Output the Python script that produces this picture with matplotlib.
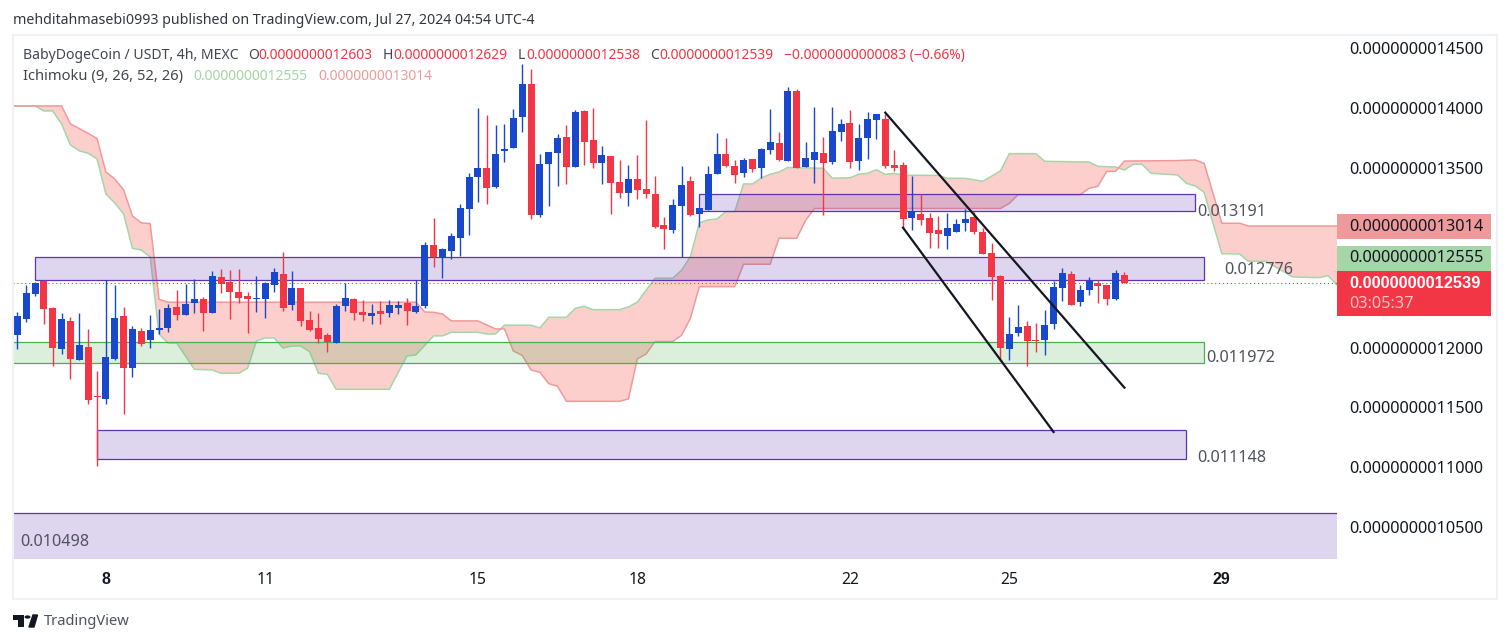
#!/usr/bin/python3

import matplotlib
matplotlib.use("Agg")
import matplotlib.pyplot as plt
from matplotlib.patches import Rectangle, Polygon, Circle

W = 1510
H = 643
FONT = "Noto Sans"
BOLD_FONT = "Liberation Sans"
RED = "#f23645"
BLUE = "#1848cc"
SPAN_A = "#a5d6a7"
SPAN_B = "#ef9a9a"
PURPLE = "#5e35b1"
GREEN = "#4caf50"

# prices are in units of 0.0000000000001, one row of ten candles per line
opens = [
    12105, 12238, 12448, 12559, 12330, 11988, 12221, 11896, 12005, 11595,
    11571, 11904, 12263, 11830, 12138, 12063, 12147, 12163, 12338, 12272,
    12372, 12406, 12288, 12589, 12548, 12464, 12431, 12406, 12406, 12523,
    12614, 12355, 12498, 12230, 12163, 12105, 12038, 12347, 12406, 12297,
    12263, 12305, 12288, 12330, 12372, 12297, 12347, 12856, 12748, 12806,
    12914, 13156, 13424, 13499, 13340, 13641, 13666, 13924, 14200, 13106,
    13532, 13624, 13757, 13507, 13974, 13732, 13540, 13599, 13382, 13290,
    13407, 13323, 13282, 13023, 12981, 13181, 13390, 13115, 13148, 13449,
    13615, 13515, 13457, 13574, 13499, 13649, 13707, 13557, 14141, 13506,
    13565, 13623, 13548, 13798, 13874, 13556, 13748, 13899, 13907, 13523,
    13523, 13081, 13114, 13081, 12981, 12931, 12964, 13039, 13089, 12964,
    12789, 12597, 11987, 12121, 12179, 12062, 12062, 12196, 12497, 12613,
    12380, 12480, 12538, 12522, 12405, 12603,
]
highs = [
    12294, 12523, 12550, 12564, 12338, 12288, 12255, 12288, 12155, 11804,
    12564, 12523, 12338, 12180, 12163, 12272, 12322, 12364, 12481, 12531,
    12573, 12423, 12639, 12656, 12648, 12656, 12464, 12598, 12548, 12664,
    12798, 12639, 12498, 12305, 12288, 12121, 12364, 12539, 12414, 12397,
    12364, 12389, 12397, 12389, 12414, 12564, 12881, 13081, 12831, 12956,
    13198, 13457, 13999, 13941, 13858, 13866, 13991, 14367, 14325, 13615,
    13632, 13782, 13858, 13983, 13983, 13999, 13682, 13599, 13565, 13524,
    13607, 13899, 13432, 13090, 13240, 13515, 13432, 13165, 13515, 13791,
    13749, 13565, 13582, 13574, 13666, 13991, 13799, 14175, 14158, 13715,
    14007, 13757, 14007, 13907, 13982, 13865, 13965, 13949, 13949, 13648,
    13548, 13431, 13281, 13122, 13097, 13122, 13072, 13156, 13131, 12997,
    12872, 12605, 12254, 12355, 12221, 12204, 12313, 12555, 12663, 12638,
    12522, 12588, 12563, 12522, 12647, 12629,
]
lows = [
    11988, 12213, 12431, 12196, 11846, 11946, 11738, 11896, 11529, 11012,
    11529, 11896, 11446, 11754, 12013, 11996, 12113, 12130, 12230, 12272,
    12288, 12138, 12288, 12456, 12238, 12372, 12121, 12297, 12247, 12464,
    12305, 12313, 12180, 12138, 12038, 11963, 12038, 12305, 12230, 12221,
    12196, 12196, 12255, 12280, 12188, 12288, 12330, 12672, 12581, 12739,
    12764, 12939, 13215, 13198, 13332, 13549, 13666, 13799, 13073, 13090,
    13181, 13348, 13365, 13507, 13524, 13499, 13365, 13115, 13248, 13181,
    13240, 13248, 12998, 12823, 12956, 12753, 13098, 13006, 13148, 13449,
    13507, 13373, 13424, 13465, 13415, 13615, 13557, 13557, 13499, 13506,
    13373, 13106, 13531, 13723, 13498, 13481, 13573, 13740, 13498, 13473,
    12997, 12980, 13022, 12830, 12830, 12822, 12964, 12972, 12947, 12780,
    12396, 11896, 11896, 12096, 11845, 11962, 11937, 12154, 12388, 12355,
    12346, 12438, 12371, 12355, 12396, 12538,
]
closes = [
    12263, 12456, 12537, 12322, 11996, 12238, 11904, 12021, 11562, 11587,
    11921, 12247, 11830, 12155, 12030, 12147, 12163, 12330, 12272, 12364,
    12406, 12288, 12598, 12531, 12464, 12414, 12406, 12414, 12539, 12631,
    12330, 12498, 12221, 12147, 12071, 12046, 12347, 12414, 12288, 12272,
    12288, 12280, 12355, 12355, 12305, 12347, 12856, 12753, 12823, 12931,
    13165, 13424, 13499, 13332, 13615, 13657, 13916, 14200, 13106, 13532,
    13632, 13749, 13507, 13966, 13716, 13540, 13607, 13373, 13290, 13407,
    13315, 13282, 13006, 12990, 13190, 13357, 13106, 13165, 13449, 13615,
    13515, 13440, 13565, 13490, 13657, 13716, 13565, 14141, 13499, 13581,
    13632, 13540, 13807, 13865, 13548, 13748, 13907, 13949, 13515, 13498,
    13072, 13139, 13064, 12956, 12947, 12997, 13031, 13072, 12964, 12780,
    12588, 11996, 12113, 12171, 12054, 12054, 12188, 12505, 12622, 12355,
    12480, 12555, 12513, 12405, 12622, 12539,
]

span_a_x = [
    -1, 2, 3, 4, 5, 6, 7, 8, 9, 10, 11, 12, 13, 14, 15, 16, 17, 18, 20, 22, 23, 25,
    26, 27, 28, 29, 30, 31, 32, 33, 34, 35, 36, 42, 44, 45, 47, 48, 49, 52, 53, 54,
    55, 58, 59, 60, 62, 63, 64, 65, 68, 69, 70, 72, 74, 75, 76, 77, 78, 79, 80, 81,
    82, 83, 84, 85, 86, 87, 91, 92, 94, 95, 96, 97, 98, 99, 100, 104, 105, 107, 109,
    111, 112, 115, 116, 121, 122, 124, 125, 126, 127, 128, 131, 132, 133, 134, 135,
    136, 138, 139, 141, 142, 144, 147, 148, 149, 150,
]
span_a = [
    14016, 14016, 13974, 13974, 13866, 13691, 13641, 13621, 13574, 13282, 13207, 13115,
    12828, 12814, 12756, 12113, 12038, 12038, 11818, 11813, 11785, 11785, 11827, 12055,
    12080, 12080, 11996, 12013, 12013, 11966, 11785, 11777, 11651, 11651, 11930, 11938,
    12097, 12097, 12127, 12127, 12113, 12113, 12186, 12186, 12163, 12252, 12252, 12327,
    12344, 12316, 12316, 12339, 12378, 12578, 12578, 12645, 12759, 13040, 13065, 13073,
    13134, 13134, 13365, 13365, 13415, 13446, 13465, 13502, 13496, 13414, 13416, 13445,
    13454, 13484, 13445, 13454, 13437, 13437, 13412, 13412, 13387, 13473, 13618, 13618,
    13554, 13548, 13512, 13506, 13481, 13529, 13529, 13454, 13440, 13370, 13348, 13295,
    13037, 12783, 12781, 12719, 12719, 12675, 12589, 12583, 12600, 12522, 12500,
]
span_b_x = [
    -1, 5, 6, 7, 8, 9, 10, 11, 12, 13, 14, 15, 16, 17, 45, 46, 47, 48, 49, 52, 54, 55,
    56, 57, 58, 59, 60, 61, 62, 68, 69, 70, 71, 72, 74, 75, 76, 77, 81, 82, 85, 86, 88,
    89, 90, 111, 112, 113, 120, 121, 122, 123, 124, 125, 131, 133, 134, 136, 138, 139,
    149, 150,
]
span_b = [
    14016, 14016, 13866, 13827, 13788, 13744, 13465, 13407, 13315, 13098, 13040, 13034,
    12403, 12378, 12378, 12297, 12294, 12280, 12222, 12222, 12155, 12155, 11971, 11935,
    11813, 11793, 11699, 11676, 11551, 11551, 11571, 11905, 11946, 12050, 12050, 12102,
    12244, 12508, 12508, 12695, 12695, 12912, 12912, 13060, 13160, 13160, 13203, 13275,
    13275, 13328, 13345, 13470, 13470, 13556, 13560, 13565, 13537, 13037, 13037, 13014,
    13014, 13014,
]

# support / resistance zones
zone_left = [77, 2, -5, 9, -5]
zone_right = [133, 134, 134, 132, 160]
zone_top = [13281, 12753, 12043, 11311, 10616]
zone_bottom = [13139, 12561, 11868, 11067, 10000]
zone_colors = [PURPLE, PURPLE, GREEN, PURPLE, PURPLE]

# trend lines, candle index and price
channel_x = [[98, 125], [100, 117]]
channel_y = [[13960, 11665], [13000, 11295]]

last_price = 12539
price_ticks = [10500, 11000, 11500, 12000, 13500, 14000, 14500]
date_ticks = [10, 28, 52, 70, 94, 112, 136]
date_labels = ["8", "11", "15", "18", "22", "25", "29"]
date_bold = ["8", "29"]

plt.rcParams["font.family"] = [FONT, "DejaVu Sans"]

fig = plt.figure(figsize=(W / 100, H / 100), dpi=100)
ax = fig.add_axes([13 / W, 1 - 559 / H, (1337 - 13) / W, (559 - 35) / H])


def put(x, y, s, color, size=10.0, **kw):
    # text at a pixel position of the picture, y measured from the top
    return fig.text(x / W, 1 - (y + 1.5) / H, s, color=color, fontsize=size, va="center", **kw)


def box(x0, y0, x1, y1, color, **kw):
    fig.add_artist(Rectangle((x0 / W, 1 - y1 / H), (x1 - x0) / W, (y1 - y0) / H,
                             transform=fig.transFigure, facecolor=color, **kw))


# cloud as one polygon, it stays pink on both sides of a crossing
ax.fill(span_a_x + span_b_x[::-1], span_a + span_b[::-1], color="#f44336", alpha=0.25, lw=0, zorder=1)
ax.plot(span_a_x, span_a, color=SPAN_A, lw=1.1, zorder=1.5)
ax.plot(span_b_x, span_b, color=SPAN_B, lw=1.1, zorder=1.5)

for l, r, t, b, c in zip(zone_left, zone_right, zone_top, zone_bottom, zone_colors):
    ax.add_patch(Rectangle((l, b), r - l, t - b, facecolor=c, alpha=0.2, lw=0, zorder=2))
    ax.add_patch(Rectangle((l, b), r - l, t - b, fill=False, edgecolor=c, lw=0.9, zorder=2.1))

ax.axhline(last_price, color=RED, lw=0.8, linestyle=(0, (1, 2.5)), zorder=2.5)

for i in range(len(opens)):
    color = BLUE if closes[i] >= opens[i] else RED
    ax.vlines(i, lows[i], highs[i], color=color, lw=1.0, zorder=3)
    ax.bar(i, abs(closes[i] - opens[i]), bottom=min(opens[i], closes[i]), width=0.79,
           color=color, lw=0, zorder=3.1)

for xs, ys in zip(channel_x, channel_y):
    ax.plot(xs, ys, color="#131722", lw=1.6, zorder=4)

ax.set_xlim(-0.486, 149.0)
ax.set_ylim(10235, 14608)
for side in ax.spines.values():
    side.set_visible(False)
ax.yaxis.tick_right()
ax.set_yticks(price_ticks)
ax.set_yticklabels([f"0.{p:013d}" for p in price_ticks], color="#131722", fontsize=11.8)
ax.set_xticks(date_ticks)
ax.set_xticklabels(date_labels, color="#131722", fontsize=11.3)
for t in ax.get_xticklabels():
    if t.get_text() in date_bold:
        t.set_family(BOLD_FONT)
        t.set_fontweight("bold")
        t.set_fontsize(11.5)
ax.tick_params(axis="y", length=0, pad=8.6)
ax.tick_params(axis="x", length=0, pad=9.5)

# outer frame
fig.add_artist(Rectangle((13 / W, 1 - 599 / H), (1497 - 13) / W, (599 - 34.5) / H,
                         transform=fig.transFigure, fill=False, edgecolor="#f0f0f6", lw=1.5))

# header and legend
put(13, 19, "mehditahmasebi0993 published on TradingView.com, Jul 27, 2024 04:54 UTC-4", "#333744", 10.2)
put(23, 54, "BabyDogeCoin / USDT, 4h, MEXC", "#434651", 10.1)
put(248, 54, "O", "#434651")
put(258, 54, "0.0000000012603", RED)
put(383, 54, "H", "#434651")
put(393, 54, "0.0000000012629", RED)
put(518, 54, "L", "#434651")
put(526, 54, "0.0000000012538", RED)
put(650, 54, "C", "#434651")
put(659, 54, "0.0000000012539", RED)
put(784, 54, "\u22120.0000000000083 (\u22120.66%)", RED, 10.0)
put(23, 75, "Ichimoku (9, 26, 52, 26)", "#434651", 10.6)
put(193, 75, "0.0000000012555", SPAN_A)
put(318, 75, "0.0000000013014", SPAN_B)

# zone labels
put(1197, 210, "0.013191", "#50535e", 11.7)
put(1224, 269, "0.012776", "#50535e", 11.7)
put(1206, 356, "0.011972", "#50535e", 11.7)
put(1197, 457, "0.011148", "#50535e", 11.7)
put(20, 540, "0.010498", "#50535e", 11.7)

# price tags on the scale
box(1337, 214, 1491, 239, SPAN_B, lw=0)
box(1337, 246, 1491, 271, SPAN_A, lw=0)
box(1337, 271, 1491, 316, RED, lw=0)
put(1349, 225.5, "0.0000000013014", "#131722", 11.8)
put(1349, 257, "0.0000000012555", "#131722", 11.8)
put(1349, 282, "0.0000000012539", "white", 11.8, family=BOLD_FONT, fontweight="bold")
put(1349, 302, "03:05:37", "#fcc0c5", 11.8)

# logo
box(13, 615, 24, 619.5, "#131722", lw=0)
box(18, 615, 24, 627, "#131722", lw=0)
fig.add_artist(Circle((27.5 / W, 1 - 617 / H), 2.2 / W, transform=fig.transFigure, color="#131722"))
fig.add_artist(Polygon([(29 / W, 1 - 627 / H), (33 / W, 1 - 615 / H), (37.5 / W, 1 - 615 / H),
                        (34 / W, 1 - 627 / H)], transform=fig.transFigure, color="#131722"))
put(44, 620, "TradingView", "#50535e", 10.6)

fig.savefig("out.png", dpi=100)
